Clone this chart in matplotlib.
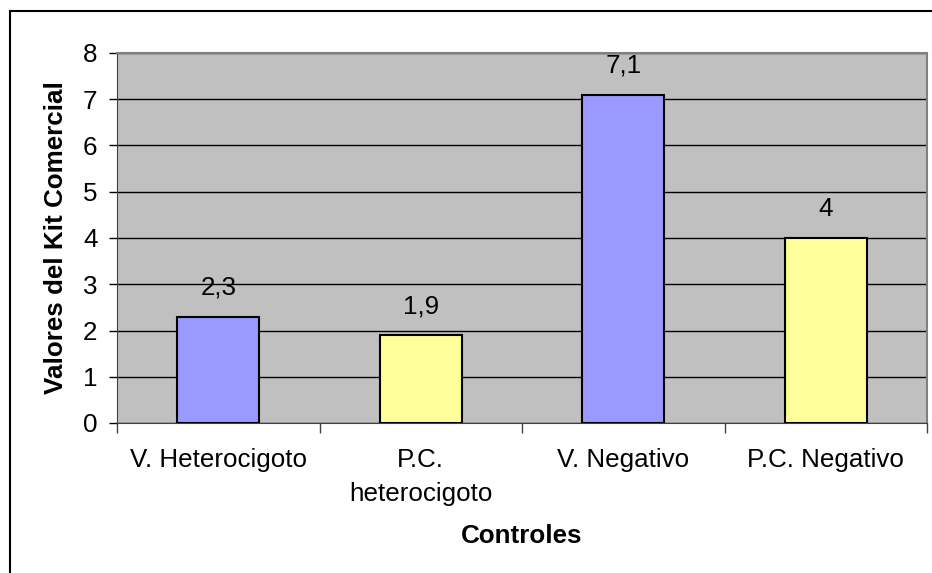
import numpy as np
import matplotlib
matplotlib.use("Agg")
import matplotlib.pyplot as plt
from matplotlib.patches import Rectangle

plt.rcParams['font.family'] = ['Liberation Sans', 'DejaVu Sans']

categorias = ["V. Heterocigoto", "P.C.\nheterocigoto", "V. Negativo", "P.C. Negativo"]
valores = [2.3, 1.9, 7.1, 4.0]
colores = ["#9999FF", "#FFFF99", "#9999FF", "#FFFF99"]

def etiqueta(v):
    # decimal comma, drop trailing ,0
    if float(v).is_integer():
        return "%d" % v
    return ("%.1f" % v).replace(".", ",")

fs = 18.7

fig = plt.figure(figsize=(9.32, 5.73), dpi=100)

# outer chart frame
fig.patches.append(Rectangle((10/932, -0.1), 1.0, 1.1 - 11/573, transform=fig.transFigure,
                             fill=False, edgecolor="black", linewidth=1.5, zorder=0))

ax = fig.add_axes([117/932, 1 - 423/573, (927 - 117)/932, (423 - 53)/573])
ax.set_facecolor("#C0C0C0")

x = np.arange(len(valores))
ax.bar(x, valores, width=0.405, color=colores, edgecolor="black", linewidth=1.5, zorder=3)

for xi, v in zip(x, valores):
    ax.text(xi, v + 0.36, etiqueta(v), ha="center", va="bottom", fontsize=fs)

ax.set_xlim(-0.5, 3.5)
ax.set_ylim(0, 8)
ax.set_yticks(np.arange(0, 9, 1))
ax.yaxis.grid(True, color="black", linewidth=1)
ax.set_axisbelow(True)

ax.set_xticks(x)
ax.set_xticklabels(categorias, fontsize=fs, linespacing=1.5)
ax.set_xticks(np.arange(-0.5, 4, 1), minor=True)
ax.tick_params(axis="x", which="major", length=0, pad=18)
ax.tick_params(axis="x", which="minor", length=7, width=1, direction="out", color="#404040")
ax.tick_params(axis="y", length=6, width=1, labelsize=fs, pad=8)

for lado in ["top", "right"]:
    ax.spines[lado].set_color("#808080")
    ax.spines[lado].set_linewidth(1.5)
ax.spines["left"].set_color("#404040")
ax.spines["bottom"].set_color("#404040")

ax.set_ylabel("Valores del Kit Comercial", fontsize=fs, fontweight="bold", labelpad=11)
ax.set_xlabel("Controles", fontsize=fs, fontweight="bold", labelpad=13)

plt.savefig("out.png", dpi=100)
